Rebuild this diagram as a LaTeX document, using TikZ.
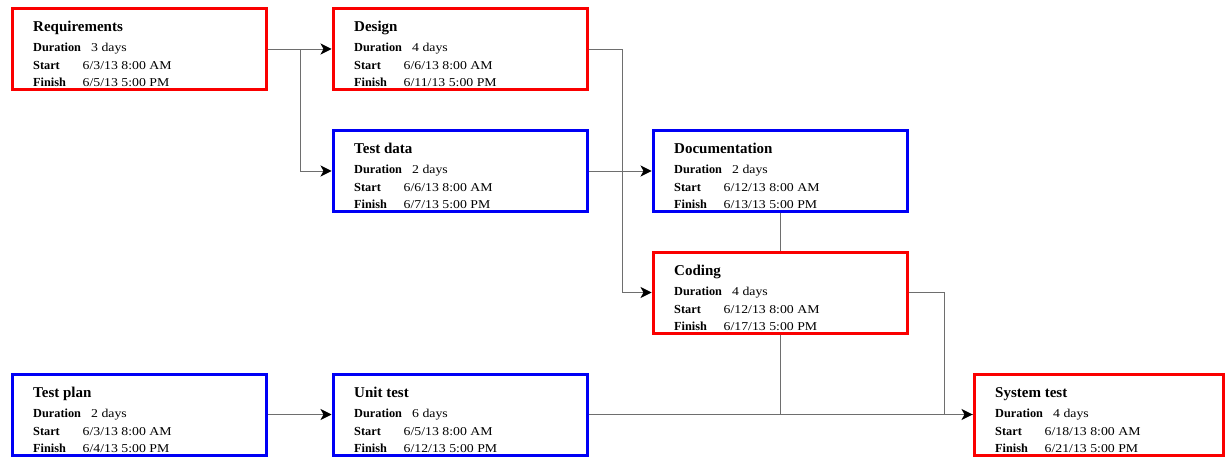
\documentclass[tikz,border=0pt]{standalone}
\usepackage{fontspec}
\setmainfont{Liberation Serif}
\newfontfamily\valfont[FakeStretch=1.15]{Liberation Serif}
\usetikzlibrary{arrows.meta,calc}

\definecolor{critred}{RGB}{250,0,0}
\definecolor{normblue}{RGB}{0,0,245}
\definecolor{linkgray}{RGB}{110,110,110}

\tikzset{
  x=1pt, y=-1pt,
  taskbox/.style={draw, line width=3pt, fill=white, minimum width=254pt,
    minimum height=81pt, inner sep=0pt, anchor=north west},
  redbox/.style={taskbox, draw=critred},
  bluebox/.style={taskbox, draw=normblue},
  ttl/.style={anchor=base west, inner sep=0pt, font=\fontsize{15}{18}\selectfont\bfseries},
  lbl/.style={anchor=base west, inner sep=0pt, font=\fontsize{12.3}{15}\selectfont\bfseries},
  val/.style={anchor=base west, inner sep=0pt, font=\valfont\fontsize{12}{15}\selectfont},
  conn/.style={draw=linkgray, line width=0.9pt},
  arr/.style={conn, -{Stealth[length=11pt, width=11pt, inset=3pt, color=black]}},
}

% #1 name, #2 x, #3 y (outer top-left corner), #4 box style,
% #5 title, #6 duration, #7 start, #8 finish
\newcommand\pertbox[8]{%
  \node[#4] (#1) at (#2,#3) {};
  \node[ttl] (#1-ttl) at ($(#1.north west)+(22.5,24.7)$) {#5};
  \node[lbl] (#1-dl) at ($(#1.north west)+(22.5,44.7)$) {Duration};
  \node[val] (#1-dv) at ($(#1.north west)+(80.5,44.7)$) {#6};
  \node[lbl] (#1-sl) at ($(#1.north west)+(22.5,63)$) {Start};
  \node[val] (#1-sv) at ($(#1.north west)+(72,63)$) {#7};
  \node[lbl] (#1-fl) at ($(#1.north west)+(22.5,79.7)$) {Finish};
  \node[val] (#1-fv) at ($(#1.north west)+(72,79.7)$) {#8};
}

\begin{document}
\begin{tikzpicture}
\useasboundingbox (0,0) rectangle (1226,457);
\fill[white] (0,0) rectangle (1226,457);

\pertbox{req}{10.5}{7}{redbox}{Requirements}{3 days}{6/3/13 8:00 AM}{6/5/13 5:00 PM}
\pertbox{des}{331.5}{7}{redbox}{Design}{4 days}{6/6/13 8:00 AM}{6/11/13 5:00 PM}
\pertbox{tdat}{331.5}{129}{bluebox}{Test data}{2 days}{6/6/13 8:00 AM}{6/7/13 5:00 PM}
\pertbox{doc}{651.5}{129}{bluebox}{Documentation}{2 days}{6/12/13 8:00 AM}{6/13/13 5:00 PM}
\pertbox{cod}{651.5}{250.5}{redbox}{Coding}{4 days}{6/12/13 8:00 AM}{6/17/13 5:00 PM}
\pertbox{tplan}{10.5}{372.5}{bluebox}{Test plan}{2 days}{6/3/13 8:00 AM}{6/4/13 5:00 PM}
\pertbox{unit}{331.5}{372.5}{bluebox}{Unit test}{6 days}{6/5/13 8:00 AM}{6/12/13 5:00 PM}
\pertbox{sys}{972.5}{372.5}{redbox,minimum width=249pt}{System test}{4 days}{6/18/13 8:00 AM}{6/21/13 5:00 PM}

% dependency links
\draw[arr] (req.east) -- (des.west);
\draw[arr] (req.east) -- ++(32.5,0) |- (tdat.west);
\draw[arr] (des.east) -- ++(33.5,0) |- (cod.west);
\draw[arr] (tdat.east) -- (doc.west);
\draw[conn] (doc.south) -- (cod.north);
\draw[conn] (cod.south) |- (sys.west);
\draw[conn] (cod.east) -- ++(35.5,0) |- (sys.west);
\draw[arr] (unit.east) -- (sys.west);
\draw[arr] (tplan.east) -- (unit.west);
\end{tikzpicture}
\end{document}
